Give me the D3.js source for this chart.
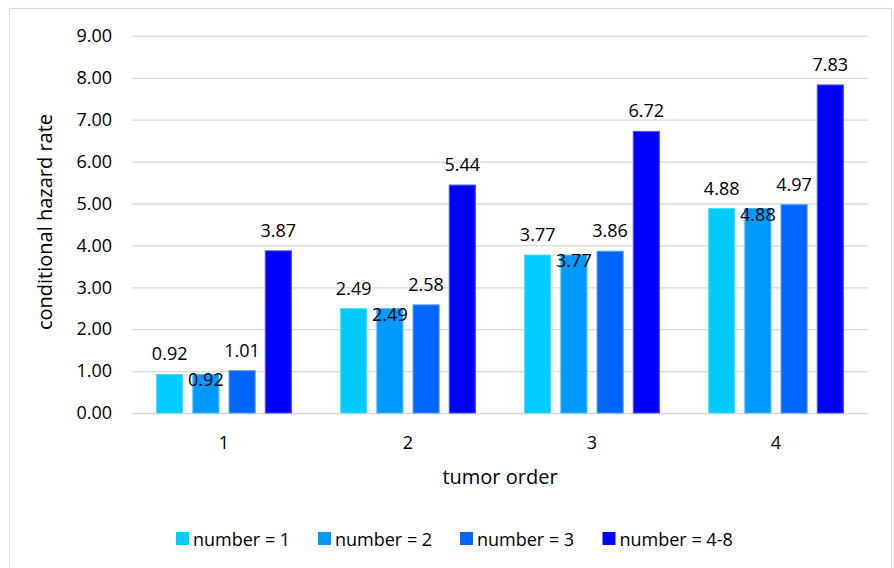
<!DOCTYPE html>
<html>
<head>
<meta charset="utf-8">
<script src="https://cdn.jsdelivr.net/npm/d3@7"></script>
<style>
  html, body { margin: 0; padding: 0; background: #fff; }
  svg { display: block; font-family: "Open Sans", "Noto Sans", sans-serif; }
</style>
</head>
<body>
<svg id="chart" width="894" height="568"></svg>
<script>
// Tumor order groups on the x axis
const categories = ["1", "2", "3", "4"];
// One series per tumor-count group
const seriesNames = ["number = 1", "number = 2", "number = 3", "number = 4-8"];
const number1 = [0.92, 2.49, 3.77, 4.88];
const number2 = [0.92, 2.49, 3.77, 4.88];
const number3 = [1.01, 2.58, 3.86, 4.97];
const number48 = [3.87, 5.44, 6.72, 7.83];
const yTicks = [0, 1, 2, 3, 4, 5, 6, 7, 8, 9];

const seriesValues = [number1, number2, number3, number48];
const colors = ["#00CCFF", "#0099FF", "#0066FF", "#0000FF"];

const svg = d3.select("#chart");
const plot = { left: 132, right: 868, top: 35.9, bottom: 413 };
const FS = 18;

// Outer chart frame
svg.append("rect")
  .attr("x", 9.5).attr("y", 8.5)
  .attr("width", 882).attr("height", 570)
  .attr("fill", "none").attr("stroke", "#d9d9d9").attr("stroke-width", 1.2);

const x0 = d3.scaleBand().domain(categories).range([plot.left, plot.right]).paddingInner(0).paddingOuter(0);
const x1 = d3.scaleBand().domain(d3.range(seriesNames.length))
  .range([0, x0.bandwidth()]).paddingInner(0.28).paddingOuter(0.68);
const y = d3.scaleLinear().domain([0, 9]).range([plot.bottom, plot.top]);

// Horizontal gridlines with fixed two-decimal tick labels
const yAxis = d3.axisLeft(y).tickValues(yTicks)
  .tickSize(-(plot.right - plot.left)).tickPadding(20)
  .tickFormat(d3.format(".2f"));
const gy = svg.append("g").attr("transform", `translate(${plot.left},0)`).call(yAxis);
gy.select(".domain").remove();
gy.selectAll(".tick line").attr("stroke", "#d9d9d9").attr("stroke-width", 1.3);
gy.selectAll(".tick text").attr("font-size", FS).attr("fill", "#000")
  .attr("font-family", "'Open Sans', sans-serif");

// Category axis labels (no ticks or line beyond the zero gridline)
const xAxis = d3.axisBottom(x0).tickSize(0).tickPadding(23);
const gx = svg.append("g").attr("transform", `translate(0,${plot.bottom})`).call(xAxis);
gx.select(".domain").remove();
gx.selectAll(".tick text").attr("font-size", FS).attr("fill", "#000")
  .attr("font-family", "'Open Sans', sans-serif");

// Bars
const rows = [];
categories.forEach((c, i) => {
  seriesValues.forEach((vals, s) => rows.push({ cat: c, s, v: vals[i] }));
});

const bars = svg.append("g");
bars.selectAll("rect").data(rows).join("rect")
  .attr("x", d => x0(d.cat) + x1(d.s))
  .attr("y", d => y(d.v))
  .attr("width", x1.bandwidth())
  .attr("height", d => y(0) - y(d.v))
  .attr("fill", d => colors[d.s])
  .attr("stroke", d => d3.interpolateRgb(colors[d.s], "#ffffff")(0.3))
  .attr("stroke-width", 1);

// Value labels: above each bar, except the second series, whose labels sit across the bar top
svg.append("g").selectAll("text").data(rows).join("text")
  .attr("x", d => x0(d.cat) + x1(d.s) + x1.bandwidth() / 2)
  .attr("y", d => y(d.v) + (d.s === 1 ? 5 : -21))
  .attr("text-anchor", "middle")
  .attr("dominant-baseline", "central")
  .attr("font-size", FS)
  .attr("fill", "#000")
  .text(d => d3.format(".2f")(d.v));

// Axis titles
svg.append("text")
  .attr("transform", `translate(52,222) rotate(-90)`)
  .attr("text-anchor", "middle")
  .attr("font-size", 20).attr("fill", "#000")
  .text("conditional hazard rate");

svg.append("text")
  .attr("x", (plot.left + plot.right) / 2).attr("y", 484)
  .attr("text-anchor", "middle")
  .attr("font-size", 20).attr("fill", "#000")
  .text("tumor order");

// Legend
const legendX = [176, 318, 460, 602.5];
const legend = svg.append("g").selectAll("g").data(seriesNames).join("g")
  .attr("transform", (d, i) => `translate(${legendX[i]},538.5)`);
legend.append("rect")
  .attr("x", 0).attr("y", -6.5).attr("width", 13).attr("height", 13)
  .attr("fill", (d, i) => colors[i]);
legend.append("text")
  .attr("x", 17).attr("y", 0)
  .attr("dominant-baseline", "central")
  .attr("font-size", FS).attr("fill", "#000")
  .text(d => d);
</script>
</body>
</html>
